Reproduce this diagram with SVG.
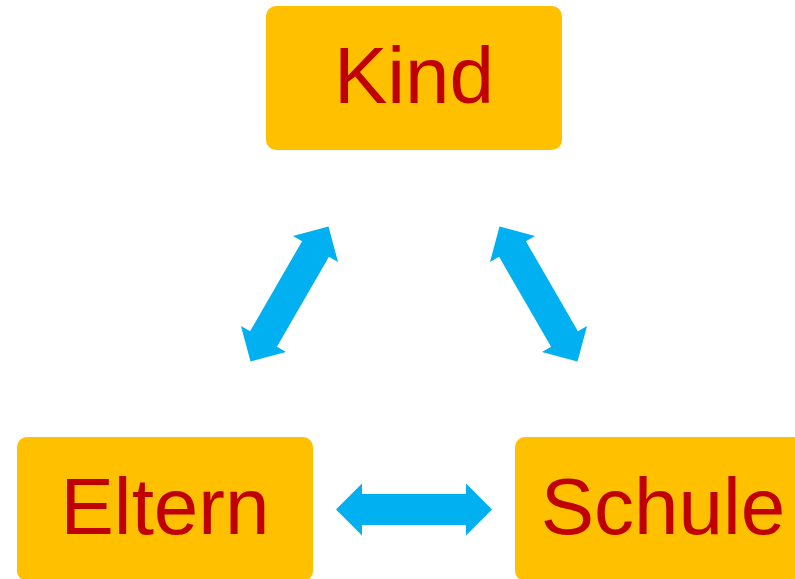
<svg xmlns="http://www.w3.org/2000/svg" xmlns:xlink="http://www.w3.org/1999/xlink" width="795" height="579" viewBox="0 0 795 579">
  <style>
    .box { fill: #FFC000; }
    .label { font-family: "Liberation Sans", Arial, sans-serif; font-size: 80px; fill: #C00000; text-anchor: middle; }
    .arrow { fill: #00B0F0; }
  </style>
  <defs>
    <polygon id="dblArrow" points="-78,0 -52,-26 -52,-15.5 52,-15.5 52,-26 78,0 52,26 52,15.5 -52,15.5 -52,26"/>
  </defs>
  <rect width="795" height="579" fill="#FFFFFF"/>
  <g id="connectors" class="arrow">
    <use xlink:href="#dblArrow" transform="translate(289.5,294) rotate(-60)"/>
    <use xlink:href="#dblArrow" transform="translate(538.5,294) rotate(60)"/>
    <use xlink:href="#dblArrow" transform="translate(414,509.5)"/>
  </g>
  <g id="kind">
    <rect class="box" x="266" y="6" width="296" height="144" rx="10" ry="10"/>
    <text class="label" x="414" y="103">Kind</text>
  </g>
  <g id="eltern">
    <rect class="box" x="17" y="437" width="296" height="144" rx="10" ry="10"/>
    <text class="label" x="165" y="534">Eltern</text>
  </g>
  <g id="schule">
    <rect class="box" x="515" y="437" width="296" height="144" rx="10" ry="10"/>
    <text class="label" x="663" y="534">Schule</text>
  </g>
</svg>
